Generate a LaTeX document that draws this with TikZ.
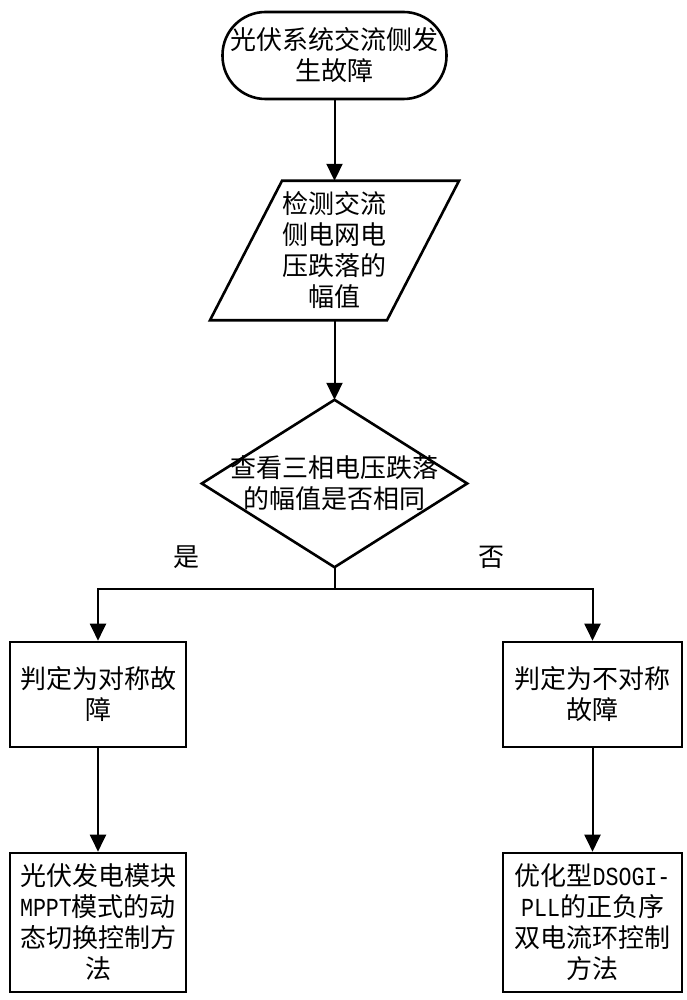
\documentclass[tikz,border=0pt]{standalone}
\usepackage{fontspec}
\usepackage{graphicx}
\setmainfont{Noto Sans CJK SC}
\newfontfamily\latfont{Liberation Mono}
\newcommand\lt[1]{\scalebox{0.833}[1]{\latfont #1}}
\usetikzlibrary{arrows.meta}
\begin{document}
\begin{tikzpicture}[x=1pt,y=-1pt,
  txt/.style={font=\fontsize{26pt}{31pt}\selectfont, align=center, inner sep=0pt, text=black},
  shapeline/.style={draw=black, line width=2.6pt},
  boxnode/.style={txt, shapeline, rectangle},
  conn/.style={draw=black, line width=2pt},
  arr/.style={conn, -{Triangle[length=17pt,width=16pt]}}
]
\useasboundingbox[fill=white] (0,0) rectangle (687,1000);

\node[txt, shapeline, rectangle, rounded corners=43pt, minimum width=224pt, minimum height=87pt] (start) at (334.5,55.5) {光伏系统交流侧发\\生故障};

\node[txt, minimum height=139pt] (para) at (334.5,250.5) {检测交流\\侧电网电\\压跌落的\\幅值};
\draw[shapeline, line join=miter] ([xshift=-52.5pt]para.north) -- ([xshift=124.5pt]para.north) -- ([xshift=52.5pt]para.south) -- ([xshift=-124.5pt]para.south) -- cycle;

\node[txt, minimum width=265pt, minimum height=167pt] (dia) at (334.5,483.5) {查看三相电压跌落\\的幅值是否相同};
\draw[shapeline, line join=miter] (dia.north) -- (dia.east) -- (dia.south) -- (dia.west) -- cycle;

\node[boxnode, minimum width=176pt, minimum height=105pt] (b1) at (98,694.5) {判定为对称故\\障};
\node[boxnode, minimum width=179pt, minimum height=105pt] (b2) at (592.5,694.5) {判定为不对称\\故障};
\node[boxnode, minimum width=176pt, minimum height=139pt] (b3) at (98,922.5) {光伏发电模块\\\lt{MPPT}模式的动\\态切换控制方\\法};
\node[boxnode, minimum width=179pt, minimum height=139pt] (b4) at (592.5,922.5) {优化型\lt{DSOGI-}\\\lt{PLL}的正负序\\双电流环控制\\方法};

\node[txt] (yes) at (186,557) {是};
\node[txt] (no) at (491,557) {否};

\coordinate (split) at (334.5,589);

\draw[arr] (start.south) -- (para.north);
\draw[arr] (para.south) -- (dia.north);
\draw[conn] (dia.south) -- (split);
\draw[arr] (split) -| (b1.north);
\draw[arr] (split) -| (b2.north);
\draw[arr] (b1.south) -- (b3.north);
\draw[arr] (b2.south) -- (b4.north);
\end{tikzpicture}
\end{document}
